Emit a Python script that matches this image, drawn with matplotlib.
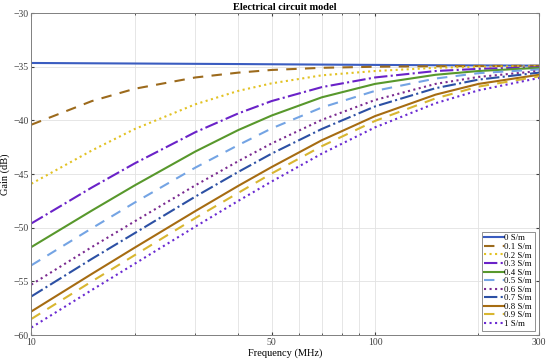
import numpy as np
import matplotlib
matplotlib.use('Agg')
import matplotlib.pyplot as plt
from matplotlib.ticker import FixedLocator, NullFormatter

plt.rcParams['font.family'] = ['Liberation Serif', 'DejaVu Serif']

freq = [10, 15, 20, 30, 40, 50, 70, 100, 150, 200, 300]

g_00 = [-34.65, -34.68, -34.7, -34.73, -34.75, -34.77, -34.8, -34.83, -34.86, -34.88, -34.9]
g_01 = [-40.4, -38.2, -37.05, -36.0, -35.55, -35.3, -35.1, -35.0, -34.95, -34.93, -34.91]
g_02 = [-45.9, -42.8, -40.8, -38.5, -37.25, -36.55, -35.8, -35.4, -35.1, -35.0, -34.95]
g_03 = [-49.6, -46.25, -44.0, -41.1, -39.35, -38.2, -36.9, -36.0, -35.4, -35.2, -35.05]
g_04 = [-51.8, -48.4, -46.05, -42.9, -40.9, -39.55, -37.85, -36.6, -35.75, -35.4, -35.1]
g_05 = [-53.5, -50.05, -47.65, -44.4, -42.3, -40.75, -38.8, -37.25, -36.1, -35.6, -35.25]
g_06 = [-55.3, -51.8, -49.4, -46.05, -43.8, -42.15, -39.95, -38.1, -36.6, -35.95, -35.4]
g_07 = [-56.4, -52.9, -50.5, -47.1, -44.8, -43.1, -40.8, -38.7, -37.0, -36.2, -35.55]
g_08 = [-57.8, -54.3, -51.85, -48.45, -46.1, -44.35, -41.85, -39.6, -37.6, -36.6, -35.75]
g_09 = [-58.5, -55.0, -52.55, -49.1, -46.75, -44.95, -42.4, -40.05, -37.95, -36.85, -35.9]
g_10 = [-59.3, -55.8, -53.35, -49.9, -47.5, -45.7, -43.1, -40.65, -38.4, -37.2, -36.05]

labels = ['0 S/m', '0.1 S/m', '0.2 S/m', '0.3 S/m', '0.4 S/m', '0.5 S/m',
          '0.6 S/m', '0.7 S/m', '0.8 S/m', '0.9 S/m', '1 S/m']
series = [g_00, g_01, g_02, g_03, g_04, g_05, g_06, g_07, g_08, g_09, g_10]

colors = ['#3a5cc0', '#9c6a1c', '#e2c224', '#6a22c8', '#58982c', '#74a4e4',
          '#7a2a90', '#2c50a4', '#a66c12', '#d8b630', '#6a2ad2']
styles = ['-', (0, (5, 4)), ':', '-.', '-', (0, (5, 4)),
          ':', '-.', '-', (0, (5, 4)), ':']

fig = plt.figure(figsize=(5.5, 3.63), dpi=100)
ax = fig.add_axes([0.057, 0.077, 0.923, 0.887])

for g, lab, c, ls in zip(series, labels, colors, styles):
    ax.plot(freq, g, color=c, linestyle=ls, linewidth=1.5, label=lab)

ax.set_xscale('log')
ax.set_xlim(10, 300)
ax.set_ylim(-60, -30)
ax.xaxis.set_major_locator(FixedLocator([10, 50, 100, 300]))
ax.xaxis.set_minor_locator(FixedLocator([20, 30, 40, 60, 70, 80, 90, 200]))
ax.xaxis.set_minor_formatter(NullFormatter())
ax.set_xticklabels(['10', '50', '100', '300'])
ax.set_yticks([-60, -55, -50, -45, -40, -35, -30])

ax.grid(True, which='both', color='#e2e2e2', linewidth=0.6)
ax.set_axisbelow(True)
ax.tick_params(which='both', direction='in', labelsize=7, colors='#404040',
               length=2.5, top=True, right=True, pad=2)
ax.tick_params(which='minor', length=1.5)
for s in ax.spines.values():
    s.set_color('#808080')
    s.set_linewidth(0.7)

ax.set_title('Electrical circuit model', fontsize=7.5, fontweight='bold', pad=2)
ax.set_xlabel('Frequency (MHz)', fontsize=7.5, labelpad=1)
ax.set_ylabel('Gain (dB)', fontsize=7.5, labelpad=0)
ax.yaxis.set_label_coords(-0.042, 0.5)

leg = ax.legend(loc='lower right', fontsize=6.3, handlelength=2.2, handletextpad=0.1,
                labelspacing=0.05, borderpad=0.3, fancybox=False, framealpha=1,
                borderaxespad=0.5)
leg.get_frame().set_edgecolor('#808080')
leg.get_frame().set_linewidth(0.6)

fig.savefig('out.png', dpi=100)
